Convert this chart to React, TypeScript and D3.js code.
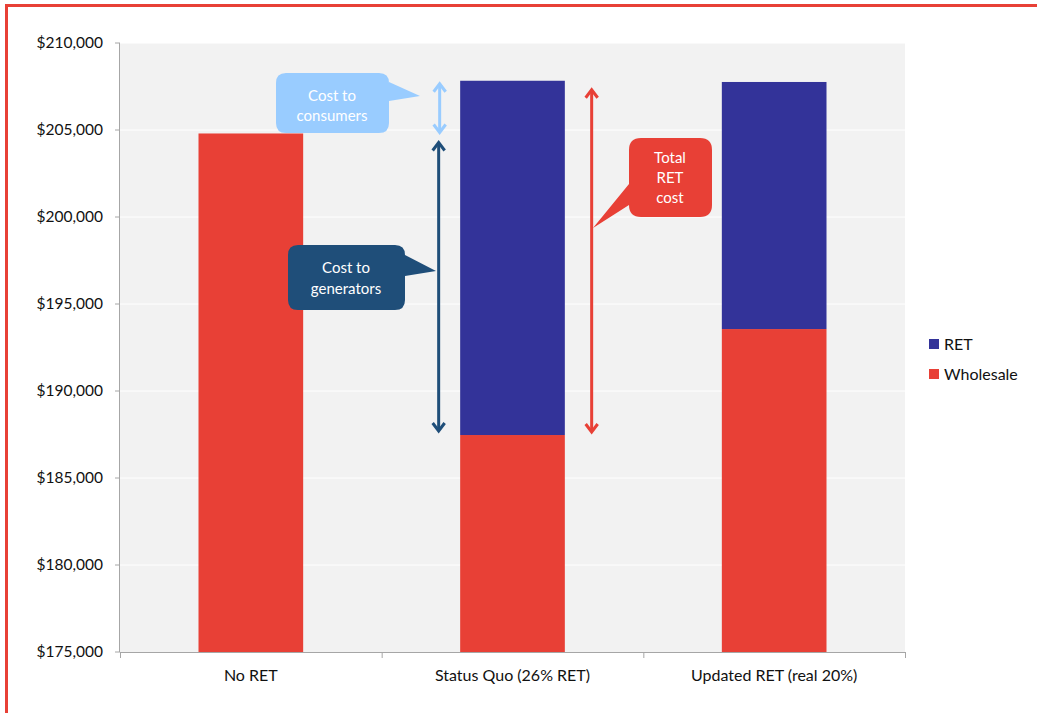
import React from "react";
import * as d3 from "d3";

const categories = ["No RET", "Status Quo (26% RET)", "Updated RET (real 20%)"];
const wholesale = [204800, 187470, 193560];
const ret = [0, 20360, 14200];
const yTicks = [175000, 180000, 185000, 190000, 195000, 200000, 205000, 210000];
const seriesNames = ["RET", "Wholesale"];

const W = 1037, H = 713;
const M = { left: 120, right: 905, top: 43, bottom: 652 };
const RED = "#E84036";
const BLUE = "#333399";
const LIGHT = "#99CCFF";
const DARK = "#1F4E79";
const FONT = "Lato, 'Open Sans', sans-serif";

function Arrow({ x, y1, y2, color, topHead = true, bottomHead = true }: any) {
  const h = 8, w = 6;
  return (
    <g stroke={color} strokeWidth={3} fill="none" strokeLinecap="butt">
      <line x1={x} x2={x} y1={y1 + 1} y2={y2 - 1} />
      {topHead && <polyline points={`${x - w},${y1 + h} ${x},${y1} ${x + w},${y1 + h}`} strokeLinejoin="miter" />}
      {bottomHead && <polyline points={`${x - w},${y2 - h} ${x},${y2} ${x + w},${y2 - h}`} strokeLinejoin="miter" />}
    </g>
  );
}

function roundedCallout(x0: number, y0: number, x1: number, y1: number, r: number, side: string, b1: number, b2: number, tx: number, ty: number) {
  const p = d3.path();
  p.moveTo(x0 + r, y0);
  p.lineTo(x1 - r, y0);
  p.quadraticCurveTo(x1, y0, x1, y0 + r);
  if (side === "right") {
    p.lineTo(x1, b1);
    p.lineTo(tx, ty);
    p.lineTo(x1, b2);
  }
  p.lineTo(x1, y1 - r);
  p.quadraticCurveTo(x1, y1, x1 - r, y1);
  p.lineTo(x0 + r, y1);
  p.quadraticCurveTo(x0, y1, x0, y1 - r);
  if (side === "left") {
    p.lineTo(x0, b2);
    p.lineTo(tx, ty);
    p.lineTo(x0, b1);
  }
  p.lineTo(x0, y0 + r);
  p.quadraticCurveTo(x0, y0, x0 + r, y0);
  p.closePath();
  return p.toString();
}

export default function App() {
  const y = d3.scaleLinear().domain([175000, 210000]).range([M.bottom, M.top]);
  const x = d3.scaleBand<string>().domain(categories).range([M.left, M.right]).paddingInner(0.6).paddingOuter(0.3);
  const xOuter = d3.scaleBand<string>().domain(categories).range([M.left, M.right]);
  const fmt = (v: number) => "$" + d3.format(",")(v);

  const sqX = xOuter("Status Quo (26% RET)")!;
  const bw = x.bandwidth();
  const sqTotal = wholesale[1] + ret[1];
  const boundaries = [0, 1, 2, 3].map((i) => M.left + i * xOuter.step());

  return (
    <svg width={W} height={H} style={{ position: "absolute", left: 0, top: 0, background: "#fff" }} fontFamily={FONT}>
      <rect x={6.5} y={5.5} width={W + 20} height={H + 20} fill="none" stroke={RED} strokeWidth={3} />
      <rect x={M.left} y={M.top} width={M.right - M.left} height={M.bottom - M.top} fill="#F2F2F2" />
      {yTicks.map((t) => (
        <g key={t}>
          {t !== 175000 && <line x1={M.left} x2={M.right} y1={y(t)} y2={y(t)} stroke="#fff" strokeWidth={1} />}
          <line x1={M.left - 5} x2={M.left} y1={y(t)} y2={y(t)} stroke="#A6A6A6" />
          <text x={103} y={y(t)} dy="0.35em" textAnchor="end" fontSize={15.5} fill="#111">{fmt(t)}</text>
        </g>
      ))}
      {categories.map((c, i) => (
        <g key={c}>
          <rect x={x(c)} y={y(wholesale[i])} width={bw} height={M.bottom - y(wholesale[i])} fill={RED} />
          {ret[i] > 0 && (
            <rect x={x(c)} y={y(wholesale[i] + ret[i])} width={bw} height={y(wholesale[i]) - y(wholesale[i] + ret[i])} fill={BLUE} />
          )}
          <text x={xOuter(c)! + xOuter.bandwidth() / 2} y={681} textAnchor="middle" fontSize={16} fill="#111">{c}</text>
        </g>
      ))}
      <line x1={M.left - 0.5} x2={M.left - 0.5} y1={M.top} y2={M.bottom} stroke="#A6A6A6" />
      <line x1={M.left} x2={M.right} y1={M.bottom + 0.5} y2={M.bottom + 0.5} stroke="#A6A6A6" />
      {boundaries.map((b, i) => (
        <line key={i} x1={b + 0.5} x2={b + 0.5} y1={M.bottom} y2={M.bottom + 6} stroke="#A6A6A6" />
      ))}

      {/* Arrows */}
      <Arrow x={sqX + 58} y1={y(sqTotal) + 3} y2={y(wholesale[0]) - 1} color={LIGHT} />
      <Arrow x={sqX + 57} y1={y(wholesale[0]) + 9} y2={y(wholesale[1]) - 4} color={DARK} />
      <Arrow x={sqX + 210} y1={y(sqTotal) + 9} y2={y(wholesale[1]) - 3} color={RED} />

      {/* Callouts */}
      <path d={roundedCallout(276, 73, 389, 133, 10, "right", 82, 101, 420, 96)} fill={LIGHT} />
      <text x={332} y={101} textAnchor="middle" fontSize={15} fill="#fff">Cost to</text>
      <text x={332} y={121} textAnchor="middle" fontSize={15} fill="#fff">consumers</text>

      <path d={roundedCallout(288, 245, 405, 310, 10, "right", 255, 276, 436, 271)} fill={DARK} />
      <text x={346} y={273} textAnchor="middle" fontSize={15} fill="#fff">Cost to</text>
      <text x={346} y={294} textAnchor="middle" fontSize={15} fill="#fff">generators</text>

      <path d={roundedCallout(629, 138, 712, 217, 12, "left", 184, 205, 593, 228)} fill={RED} />
      <text x={670} y={163} textAnchor="middle" fontSize={15} fill="#fff">Total</text>
      <text x={670} y={183} textAnchor="middle" fontSize={15} fill="#fff">RET</text>
      <text x={670} y={203} textAnchor="middle" fontSize={15} fill="#fff">cost</text>

      {/* Legend */}
      {seriesNames.map((s, i) => (
        <g key={s} transform={`translate(929, ${339 + i * 30})`}>
          <rect width={10} height={10} fill={s === "RET" ? BLUE : RED} />
          <text x={15} y={5} dy="0.35em" fontSize={16} fill="#111">{s}</text>
        </g>
      ))}
    </svg>
  );
}
